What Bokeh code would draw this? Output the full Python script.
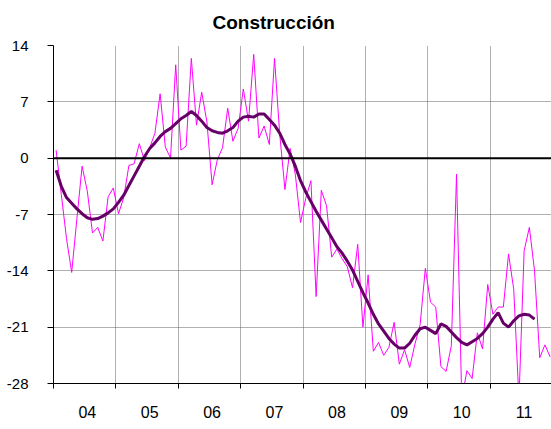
from bokeh.plotting import figure
from bokeh.models import Range1d, FixedTicker, Span, ColumnDataSource
from bokeh.embed import file_html
from bokeh.resources import INLINE

# Monthly data, Jan 2004 .. Dec 2011 (96 months)
start_year = 2004
monthly = [
    1.0, -4.5, -10.0, -14.2, -7.5, -1.0, -4.1, -9.3, -8.6, -10.3, -4.8, -3.7,
    -6.9, -4.9, -0.9, -0.7, 1.8, -0.3, 1.3, 3.1, 8.0, 1.4, 0.0, 11.6,
    1.0, 1.5, 12.4, 4.1, 8.2, 4.5, -3.3, -0.2, 1.3, 6.2, 2.1, 3.7,
    8.6, 4.6, 12.9, 2.5, 4.0, 1.7, 12.4, 3.0, -3.9, 1.2, -2.0, -8.0,
    -5.0, -2.8, -17.2, -4.0, -5.9, -12.3, -11.3, -12.5, -13.5, -16.1, -10.7, -21.0,
    -14.5, -24.0, -22.9, -24.5, -23.5, -20.4, -25.6, -23.8, -26.0, -23.1, -20.7, -13.7,
    -17.9, -18.5, -25.9, -26.5, -23.3, -2.0, -30.0, -26.4, -27.4, -21.7, -23.7, -15.7,
    -19.4, -18.5, -18.5, -11.9, -16.3, -30.0, -11.5, -8.6, -14.0, -24.8, -23.2, -24.7,
]
trend = [
    -1.5, -3.5, -4.9, -5.6, -6.3, -6.9, -7.4, -7.6, -7.5, -7.2, -6.8, -6.3,
    -5.5, -4.6, -3.4, -2.2, -1.0, 0.2, 1.2, 1.9, 2.7, 3.3, 3.7, 4.3,
    4.9, 5.3, 5.8, 5.3, 4.6, 3.8, 3.4, 3.2, 3.1, 3.4, 3.8, 4.6,
    5.1, 5.2, 5.1, 5.5, 5.5, 4.8, 4.1, 3.1, 1.7, 0.5, -1.0, -2.8,
    -4.2, -5.4, -6.6, -7.7, -8.8, -9.9, -11.0, -11.8, -12.8, -13.9, -15.3, -16.7,
    -18.0, -19.4, -20.6, -21.5, -22.4, -23.1, -23.6, -23.6, -23.0, -22.0, -21.2, -21.0,
    -21.4, -21.8, -20.6, -20.9, -21.6, -22.3, -22.9, -23.2, -22.8, -22.4, -21.8, -21.0,
    -20.0, -19.2, -20.5, -21.0, -20.2, -19.6, -19.4, -19.5, -20.0,
]
years = [2004, 2005, 2006, 2007, 2008, 2009, 2010, 2011]
year_labels = ["04", "05", "06", "07", "08", "09", "10", "11"]
y_ticks = [-28, -21, -14, -7, 0, 7, 14]
y_tick_labels = ["-28", "-21", "-14", "-7", "0", "7", "14"]

x_month = [start_year + (i + 0.5) / 12 for i in range(len(monthly))]
x_trend = x_month[:len(trend)]

FONT = "Liberation Sans"

p = figure(width=551, height=429, output_backend="svg", toolbar_location=None,
           x_range=Range1d(2004, 2011.98), y_range=Range1d(-28, 14),
           min_border_left=53, min_border_right=0, min_border_top=44,
           min_border_bottom=46)
p.outline_line_color = None
p.background_fill_color = "white"

p.title.text = "Construcción"
p.title.align = "left"
p.title.offset = 159
p.title.standoff = 22
p.title.vertical_align = "top"
p.title.text_font = FONT
p.title.text_font_size = "19px"
p.title.text_font_style = "bold"
p.title.text_color = "black"

# grids
p.xgrid.ticker = FixedTicker(ticks=[y for y in years[1:]])
p.ygrid.ticker = FixedTicker(ticks=[t for t in y_ticks if t != 0])
for g in (p.xgrid, p.ygrid):
    g.grid_line_color = "#606060"
    g.grid_line_dash = "1 1"
    g.grid_line_width = 1

# zero line
p.add_layout(Span(location=0, dimension="width", line_color="black", line_width=2))

# x axis
label_pos = [y + 6.5 / 12 for y in years]
p.xaxis.ticker = FixedTicker(ticks=label_pos, minor_ticks=years + [2012])
p.xaxis.major_label_overrides = {lp: lab for lp, lab in zip(label_pos, year_labels)}
p.xaxis.major_tick_in = 0
p.xaxis.major_tick_out = 0
p.xaxis.minor_tick_in = 0
p.xaxis.minor_tick_out = 5
p.xaxis.minor_tick_line_color = "black"
p.xaxis.major_label_standoff = 17
p.xaxis.major_label_text_font = FONT
p.xaxis.major_label_text_font_size = "16px"
p.xaxis.major_label_text_color = "black"

# y axis
p.yaxis.ticker = FixedTicker(ticks=y_ticks)
p.yaxis.major_label_overrides = {t: lab for t, lab in zip(y_ticks, y_tick_labels)}
p.yaxis.major_tick_in = 0
p.yaxis.major_tick_out = 6
p.yaxis.minor_tick_line_color = None
p.yaxis.major_label_standoff = 19
p.yaxis.major_label_text_font = FONT
p.yaxis.major_label_text_font_size = "15px"
p.yaxis.major_label_text_color = "black"

for ax in (p.xaxis, p.yaxis):
    ax.axis_line_color = "black"
    ax.axis_line_width = 1
    ax.major_tick_line_color = "black"

src_m = ColumnDataSource(dict(x=x_month, y=monthly))
src_t = ColumnDataSource(dict(x=x_trend, y=trend))
p.line("x", "y", source=src_m, line_color="#FF00FF", line_width=1)
p.line("x", "y", source=src_t, line_color="#660066", line_width=3)

open("out.html", "w").write(file_html(p, INLINE))
